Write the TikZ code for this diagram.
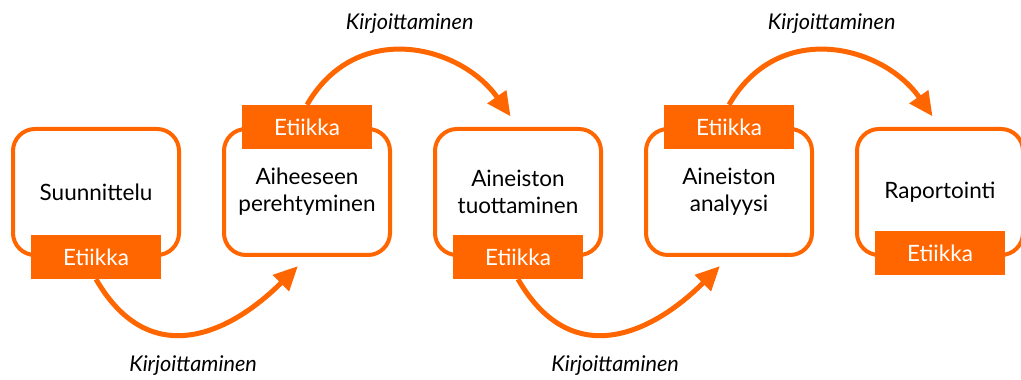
\documentclass[tikz,border=0pt]{standalone}
\usepackage{fontspec}
\setmainfont{Lato}
\usetikzlibrary{positioning,arrows.meta}
\definecolor{oranssi}{RGB}{255,102,0}
\tikzset{phase node/.style={rectangle, rounded corners=22pt, draw=oranssi, line width=4pt, minimum width=166pt, minimum height=126pt, align=center, font=\fontsize{22.5}{27}\selectfont},
ethics node/.style={rectangle, fill=oranssi, text=white, minimum width=130pt, minimum height=44pt, inner sep=0pt, font=\fontsize{22.5}{27}\selectfont},
writing edge/.style={draw=oranssi, line width=5pt, -{Triangle[length=24pt,width=22pt]}, shorten >=13pt},
writing label/.style={text=black, font=\fontsize{21.7}{26}\selectfont\itshape},}

\begin{document}
\begin{tikzpicture}[x=1pt, y=1pt]
        \useasboundingbox (0,0) rectangle (1021,380);
        % Nodes
        \node[phase node] (1) at (96,188) {Suunnittelu};
        \node[phase node] [right = 41pt of 1] (2) {Aiheeseen\\perehtyminen};
        \node[phase node] [right = 41pt of 2] (3) {Aineiston\\tuottaminen};
        \node[phase node] [right = 41pt of 3] (4) {Aineiston\\analyysi};
        \node[phase node] [right = 41pt of 4] (5) {Raportointi};
        % Ethics tags
        \node[ethics node] (t1) at (1.south) {Etiikka};
        \node[ethics node] (t2) at (2.north) {Etiikka};
        \node[ethics node] (t3) at (3.south) {Etiikka};
        \node[ethics node] (t4) at (4.north) {Etiikka};
        \node[ethics node] (t5) at ([yshift=4pt]5.south) {Etiikka};
        % Paths
        \path
        (t1.south) edge [writing edge, out=-60, in=-135, looseness=1.3] node [writing label, below=18pt] {Kirjoittaminen} (2.south)
        (t2.north) edge [writing edge, out=60, in=125, looseness=1.2] node [writing label, above=14pt] {Kirjoittaminen} (3.north)
        (t3.south) edge [writing edge, out=-60, in=-135, looseness=1.3] node [writing label, below=18pt] {Kirjoittaminen} (4.south)
        (t4.north) edge [writing edge, out=60, in=125, looseness=1.2] node [writing label, above=14pt] {Kirjoittaminen} (5.north);
    \end{tikzpicture}
\end{document}
